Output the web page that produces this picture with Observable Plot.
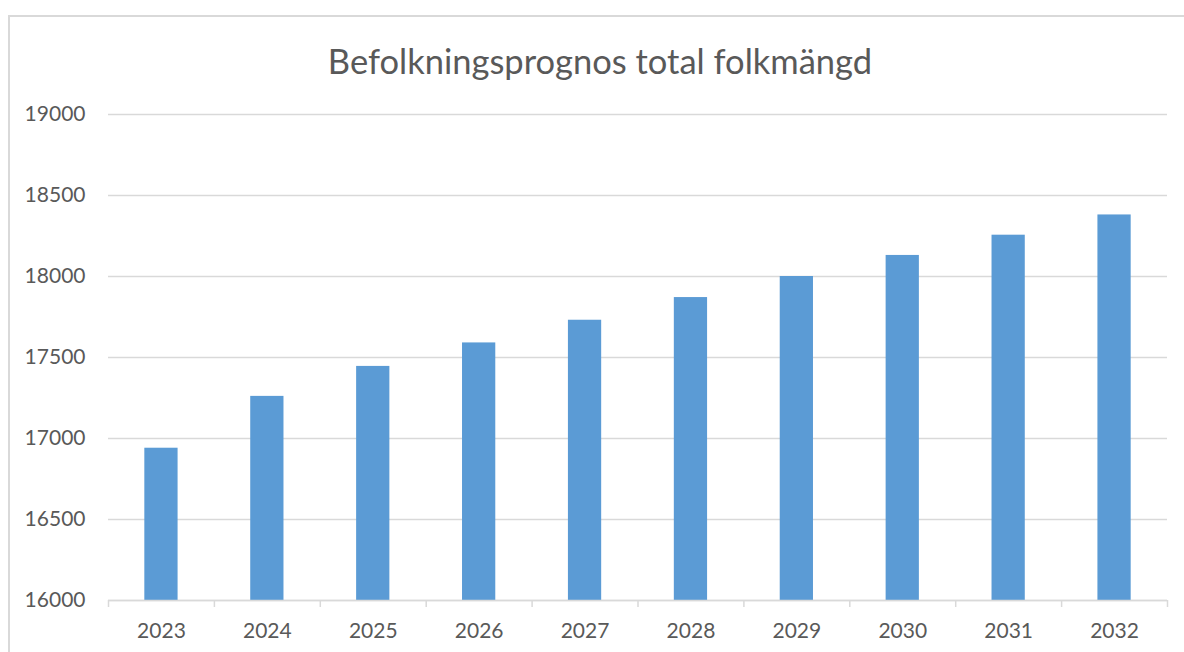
<!DOCTYPE html>
<html>
<head>
<meta charset="utf-8">
<script src="https://cdn.jsdelivr.net/npm/d3@7"></script>
<script src="https://cdn.jsdelivr.net/npm/@observablehq/plot@0.6"></script>
<style>
  html, body { margin: 0; padding: 0; background: #fff; }
  body { width: 1184px; height: 652px; overflow: hidden; position: relative; font-family: Lato, "Open Sans", sans-serif; }
  #frame { position: absolute; left: 8px; top: 15px; right: -4px; bottom: -4px; border-left: 2px solid #d9d9d9; border-top: 2px solid #d9d9d9; }
  #title { position: absolute; left: 8px; width: 1184px; top: 40px; text-align: center; font-size: 34.5px; color: #595959; line-height: 42px; }
  #chart { position: absolute; left: 0; top: 80px; }
</style>
</head>
<body>
<div id="frame"></div>
<div id="title">Befolkningsprognos total folkmängd</div>
<div id="chart"></div>
<script>
const years = ["2023", "2024", "2025", "2026", "2027", "2028", "2029", "2030", "2031", "2032"];
const population = [16940, 17260, 17445, 17590, 17730, 17870, 18000, 18130, 18255, 18380];
const yTicks = [16000, 16500, 17000, 17500, 18000, 18500, 19000];

const data = years.map((year, i) => ({year, value: population[i]}));

const width = 1184, height = 572;
const marginLeft = 108, marginRight = 17, marginTop = 34, marginBottom = 52;
const step = (width - marginLeft - marginRight) / years.length;
const yPerPx = 3000 / (height - marginTop - marginBottom);

const chart = Plot.plot({
  width, height, marginLeft, marginRight, marginTop, marginBottom,
  style: { fontFamily: "Lato, 'Open Sans', sans-serif", fontSize: "21px", color: "#595959", background: "transparent", overflow: "visible" },
  x: { domain: years, paddingInner: 0.686, paddingOuter: 0.343, round: false, axis: null },
  y: { domain: [16000, 19000], axis: null },
  marks: [
    Plot.ruleY(yTicks, { stroke: "#d9d9d9", strokeWidth: 1.5 }),
    Plot.axisY(yTicks, { tickSize: 0, tickPadding: 23, tickFormat: d3.format("d"), fill: "#595959", fontSize: 21, label: null }),
    Plot.barY(data, { x: "year", y1: 16000, y2: "value", fill: "#5b9bd5", insetLeft: 0, insetRight: 0 }),
    Plot.ruleX(years, { x: d => d, dx: -step / 2, y1: 16000, y2: 16000 - 7 * yPerPx, stroke: "#d9d9d9", strokeWidth: 1.5, clip: false }),
    Plot.ruleX([years[years.length - 1]], { x: d => d, dx: step / 2, y1: 16000, y2: 16000 - 7 * yPerPx, stroke: "#d9d9d9", strokeWidth: 1.5, clip: false }),
    Plot.axisX(years, { tickSize: 0, tickPadding: 23, fill: "#595959", fontSize: 21, label: null }),
    Plot.ruleY([16000], { stroke: "#d9d9d9", strokeWidth: 1.5 })
  ]
});
document.getElementById("chart").appendChild(chart);
</script>
</body>
</html>
